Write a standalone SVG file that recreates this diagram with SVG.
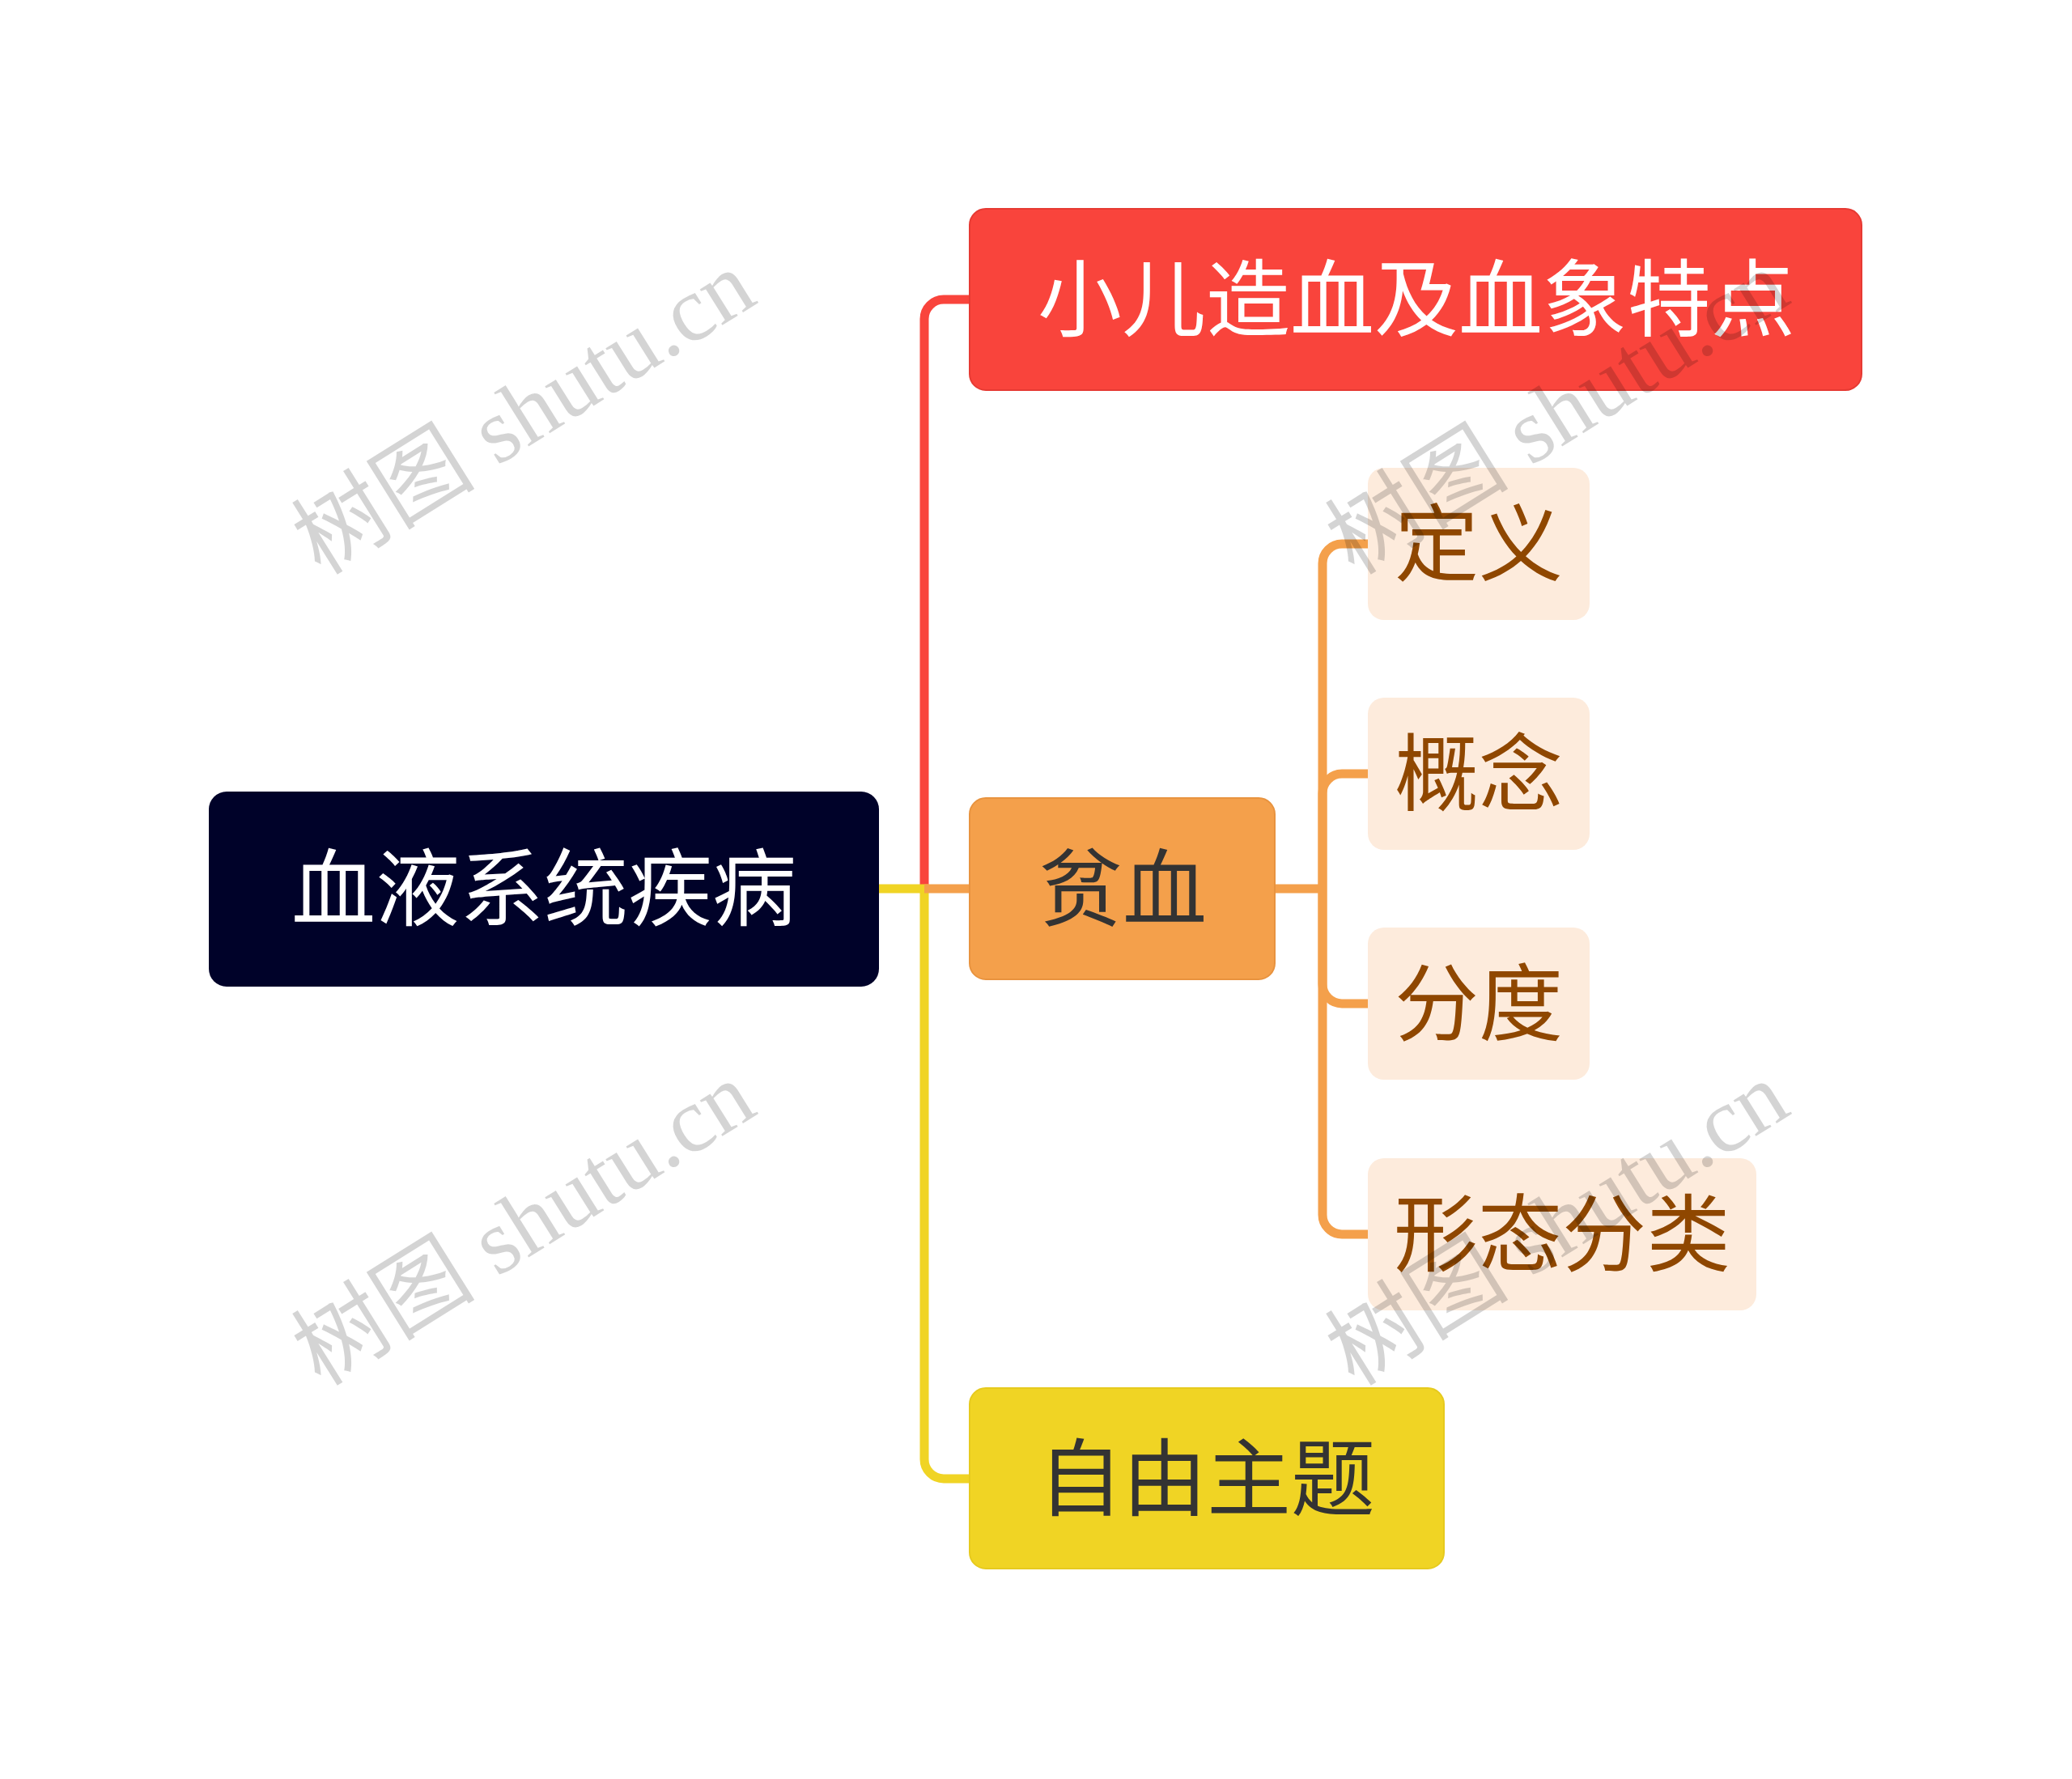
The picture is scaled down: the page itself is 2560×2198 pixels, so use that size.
<svg xmlns="http://www.w3.org/2000/svg" width="2560" height="2198" viewBox="0 0 2560 2198">
<style>
.t{font-family:"Noto Sans CJK SC","Noto Sans",sans-serif;font-size:104px;text-anchor:middle;dominant-baseline:central}
.c{fill:none;stroke-width:11;stroke-linecap:butt}
.wm{font-family:"Liberation Serif","Noto Sans CJK SC",serif;font-size:114px;fill:#000;fill-opacity:0.17;text-anchor:middle;dominant-baseline:central}
</style>
<rect width="2560" height="2198" fill="#fff"/>
<g id="connectors">
<path class="c" stroke="#F9443C" d="M1142,1098 V394 A24,24 0 0 1 1166,370 H1200"/>
<path class="c" stroke="#F0D424" d="M1086,1098 H1142 V1803 A24,24 0 0 0 1166,1827 H1200"/>
<path class="c" stroke="#F4A04B" d="M1142,1098 H1200"/>
<path class="c" stroke="#F4A04B" d="M1575,1098 H1634"/>
<path class="c" stroke="#F4A04B" d="M1634,1098 V696 A24,24 0 0 1 1658,672 H1692"/>
<path class="c" stroke="#F4A04B" d="M1634,1098 V980 A24,24 0 0 1 1658,956 H1692"/>
<path class="c" stroke="#F4A04B" d="M1634,1098 V1216 A24,24 0 0 0 1658,1240 H1692"/>
<path class="c" stroke="#F4A04B" d="M1634,1098 V1501 A24,24 0 0 0 1658,1525 H1692"/>
</g>
<g id="root">
<rect x="258" y="978" width="828" height="241" rx="22" fill="#000229"/>
<text class="t" x="672" y="1090" fill="#fff">血液系统疾病</text>
</g>
<g id="n1">
<rect x="1198" y="258" width="1102" height="224" rx="20" fill="#F9443C" stroke="#E63A33" stroke-width="2"/>
<text class="t" x="1750" y="362" fill="#fff">小儿造血及血象特点</text>
</g>
<g id="n2">
<rect x="1198" y="986" width="377" height="224" rx="20" fill="#F4A04B" stroke="#E8933F" stroke-width="2"/>
<text class="t" x="1387" y="1090" fill="#333">贫血</text>
</g>
<g id="n2a">
<rect x="1690" y="578" width="274" height="188" rx="20" fill="#FDEBDC"/>
<text class="t" x="1827" y="664" fill="#8F4700">定义</text>
</g>
<g id="n2b">
<rect x="1690" y="862" width="274" height="188" rx="20" fill="#FDEBDC"/>
<text class="t" x="1827" y="948" fill="#8F4700">概念</text>
</g>
<g id="n2c">
<rect x="1690" y="1146" width="274" height="188" rx="20" fill="#FDEBDC"/>
<text class="t" x="1827" y="1232" fill="#8F4700">分度</text>
</g>
<g id="n2d">
<rect x="1690" y="1431" width="480" height="188" rx="20" fill="#FDEBDC"/>
<text class="t" x="1930" y="1517" fill="#8F4700">形态分类</text>
</g>
<g id="n3">
<rect x="1198" y="1715" width="586" height="223" rx="20" fill="#F0D424" stroke="#E6CA1E" stroke-width="2"/>
<text class="t" x="1491" y="1819" fill="#333">自由主题</text>
</g>
<g id="watermarks">
<text class="wm" transform="translate(647,510) rotate(-32)">树图 shutu.cn</text>
<text class="wm" transform="translate(647,1512) rotate(-32)">树图 shutu.cn</text>
<text class="wm" transform="translate(1924,510) rotate(-32)">树图 shutu.cn</text>
<text class="wm" transform="translate(1924,1512) rotate(-32)">树图 shutu.cn</text>
</g>
</svg>
